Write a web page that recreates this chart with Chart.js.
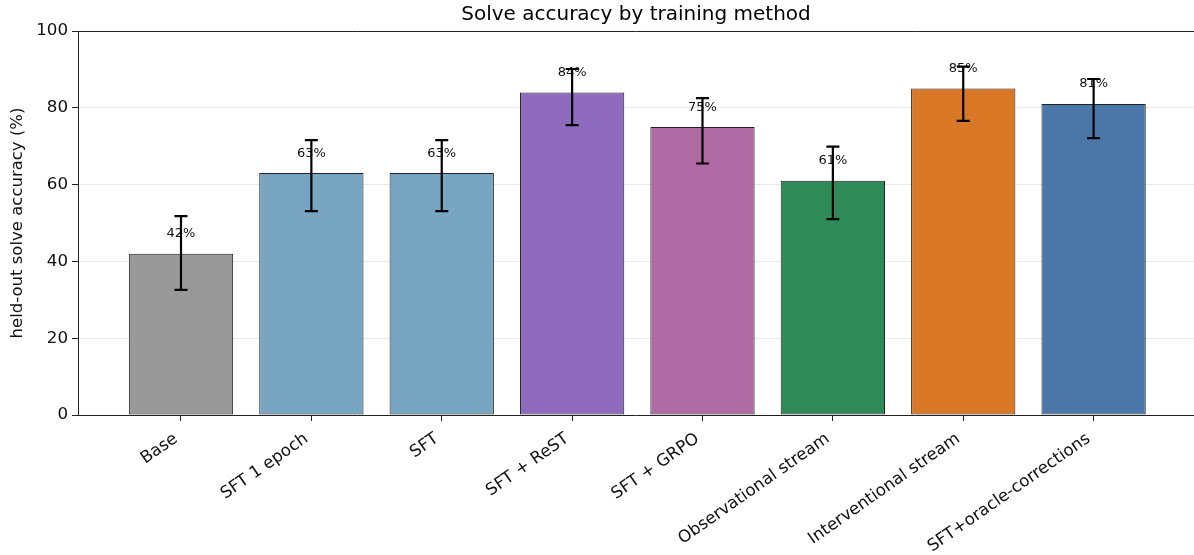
<!DOCTYPE html>
<html lang="en">
    <head>
        <meta charset="UTF-8" />
        <title>Solve accuracy by training method</title>
        <script src="https://cdn.jsdelivr.net/npm/chart.js@4.4.0/dist/chart.umd.min.js"></script>
        <style>
            html, body { margin: 0; padding: 0; background: #fff; }
        </style>
    </head>
    <body>
        <div style="width: 1194px; height: 555px">
            <canvas id="accChart"></canvas>
        </div>
        <script>
            const methods = [
                "Base",
                "SFT 1 epoch",
                "SFT",
                "SFT + ReST",
                "SFT + GRPO",
                "Observational stream",
                "Interventional stream",
                "SFT+oracle-corrections",
            ];
            const accuracy = [42, 63, 63, 84, 75, 61, 85, 81];
            const errLow = [32.6, 53.1, 53.1, 75.5, 65.5, 51.0, 76.6, 72.1];
            const errHigh = [51.8, 71.6, 71.6, 90.1, 82.5, 69.9, 90.7, 87.5];
            const yTicks = [0, 20, 40, 60, 80, 100];

            const barColors = [
                "#999999", "#78a5c1", "#78a5c1", "#8e6bbf",
                "#af6aa3", "#2e8a57", "#d97826", "#4a77a8",
            ];

            const FONT = "'DejaVu Sans', sans-serif";

            // title, error bars and value labels drawn on top
            const overlayPlugin = {
                id: "overlay",
                afterDraw(chart) {
                    const ctx = chart.ctx;
                    const xs = chart.scales.x;
                    const ys = chart.scales.y;
                    const area = chart.chartArea;
                    ctx.save();

                    ctx.fillStyle = "#000";
                    ctx.font = "20px " + FONT;
                    ctx.textAlign = "center";
                    ctx.textBaseline = "middle";
                    ctx.fillText("Solve accuracy by training method", (area.left + area.right) / 2, 15);

                    ctx.font = "13px " + FONT;
                    ctx.fillStyle = "#111";
                    ctx.textBaseline = "bottom";
                    accuracy.forEach((v, i) => {
                        ctx.fillText(v + "%", xs.getPixelForValue(i), ys.getPixelForValue(v + 4) + 2);
                    });

                    ctx.strokeStyle = "#000";
                    ctx.lineWidth = 2.2;
                    accuracy.forEach((v, i) => {
                        const x = xs.getPixelForValue(i);
                        const y1 = ys.getPixelForValue(errLow[i]);
                        const y2 = ys.getPixelForValue(errHigh[i]);
                        ctx.beginPath();
                        ctx.moveTo(x, y1);
                        ctx.lineTo(x, y2);
                        ctx.moveTo(x - 6.5, y1);
                        ctx.lineTo(x + 6.5, y1);
                        ctx.moveTo(x - 6.5, y2);
                        ctx.lineTo(x + 6.5, y2);
                        ctx.stroke();
                    });
                    ctx.restore();
                },
            };

            const config = {
                type: "bar",
                data: {
                    datasets: [
                        {
                            data: accuracy.map((v, i) => ({ x: i, y: v })),
                            backgroundColor: barColors,
                            borderColor: "#222",
                            borderWidth: 1,
                            borderSkipped: false,
                            barPercentage: 1.0,
                            categoryPercentage: 0.8,
                        },
                    ],
                },
                options: {
                    responsive: true,
                    maintainAspectRatio: false,
                    animation: false,
                    layout: { padding: { top: 31, left: 0, right: 0, bottom: 0 } },
                    plugins: {
                        legend: { display: false },
                        tooltip: { enabled: false },
                        title: { display: false },
                    },
                    scales: {
                        x: {
                            type: "linear",
                            min: -0.79,
                            max: 7.77,
                            offset: false,
                            afterBuildTicks(scale) {
                                scale.ticks = methods.map((_, i) => ({ value: i }));
                            },
                            afterFit(scale) {
                                scale.height = 140;
                            },
                            border: { color: "#222", width: 1 },
                            grid: {
                                offset: false,
                                drawOnChartArea: false,
                                tickLength: 6,
                                tickColor: "#222",
                            },
                            ticks: {
                                autoSkip: false,
                                minRotation: 35,
                                maxRotation: 35,
                                padding: 8,
                                labelOffset: -5,
                                color: "#111",
                                font: { family: FONT, size: 16.7 },
                                callback: (value) => methods[value],
                            },
                        },
                        y: {
                            min: 0,
                            max: 100,
                            z: 1,
                            afterBuildTicks(scale) {
                                scale.ticks = yTicks.map((v) => ({ value: v }));
                            },
                            afterFit(scale) {
                                scale.width = 78;
                            },
                            border: { color: "#222", width: 1 },
                            grid: {
                                tickLength: 6,
                                tickColor: "#222",
                                color: (c) => {
                                    const v = c.tick ? c.tick.value : null;
                                    if (v === 100) return "#222";
                                    if (v === 0) return "rgba(0,0,0,0)";
                                    return "rgba(200,200,200,0.4)";
                                },
                            },
                            ticks: {
                                padding: 4,
                                color: "#111",
                                font: { family: FONT, size: 16.7 },
                            },
                            title: {
                                display: true,
                                text: "held-out solve accuracy (%)",
                                color: "#111",
                                font: { family: FONT, size: 16.5 },
                                padding: { top: 8, bottom: 0 },
                            },
                        },
                    },
                },
                plugins: [overlayPlugin],
            };

            new Chart(document.getElementById("accChart"), config);
        </script>
    </body>
</html>
